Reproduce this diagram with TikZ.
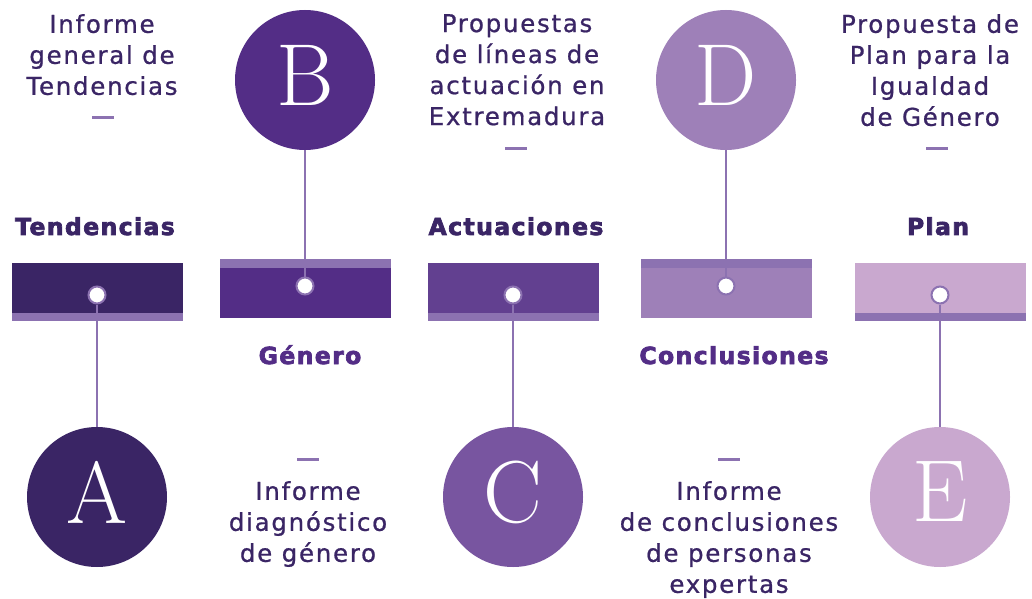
\documentclass[tikz,border=0pt]{standalone}
\usepackage{fontspec}
\newfontfamily\bodyfont[LetterSpace=7,FakeBold=0.8]{DejaVu Sans}
\newfontfamily\headfont[LetterSpace=6,BoldFont={DejaVu Sans Bold},BoldFeatures={FakeBold=3}]{DejaVu Sans}
\definecolor{darkP}{HTML}{3A2565}
\definecolor{purpB}{HTML}{532D86}
\definecolor{purpC}{HTML}{7855A0}
\definecolor{barC}{HTML}{624090}
\definecolor{purpD}{HTML}{9E80B8}
\definecolor{purpE}{HTML}{C9A8CF}
\definecolor{lineC}{HTML}{8C72B1}

\begin{document}
\begin{tikzpicture}[x=1pt, y=1pt,
  bigcirc/.style={circle, minimum size=140pt, inner sep=0pt, text=white, text depth=10pt,
    font=\fontsize{88}{88}\selectfont},
  hole/.style={circle, draw=lineC, line width=2pt, fill=white, minimum size=17pt, inner sep=0pt},
  link/.style={lineC, line width=2pt},
  body/.style={text=darkP, align=center, inner sep=0pt, anchor=north,
    font=\bodyfont\fontsize{24.5}{31}\selectfont},
  head/.style={inner sep=0pt, anchor=base, font=\headfont\bfseries\fontsize{23.5}{23.5}\selectfont},
  dashmark/.style={fill=lineC, minimum width=22pt, minimum height=3pt, inner sep=0pt}]
\useasboundingbox (0,0) rectangle (1032,598);

  % bars
  \fill[darkP] (12,285) rectangle (183,335); % A
  \fill[lineC] (12,277) rectangle (183,285);
  \fill[purpB] (220,280) rectangle (391,330); % B
  \fill[lineC] (220,330) rectangle (391,339);
  \fill[barC] (428,285) rectangle (599,335); % C
  \fill[lineC] (428,277) rectangle (599,285);
  \fill[purpD] (641,280) rectangle (812,330); % D
  \fill[lineC] (641,330) rectangle (812,339);
  \fill[purpE] (855,285) rectangle (1026,335); % E
  \fill[lineC] (855,277) rectangle (1026,285);

  % big circles
  \node[bigcirc, fill=darkP] (circA) at (97,101) {A};
  \node[bigcirc, fill=purpB] (circB) at (305,518) {B};
  \node[bigcirc, fill=purpC] (circC) at (513,101) {C};
  \node[bigcirc, fill=purpD] (circD) at (726,518) {D};
  \node[bigcirc, fill=purpE] (circE) at (940,101) {E};

  % holes on the bars
  \node[hole] (holeA) at (97,303) {};
  \node[hole] (holeB) at (305,312) {};
  \node[hole] (holeC) at (513,303) {};
  \node[hole] (holeD) at (726,312) {};
  \node[hole] (holeE) at (940,303) {};

  \draw[link] (holeA) -- (circA); % A
  \draw[link] (holeB) -- (circB); % B
  \draw[link] (holeC) -- (circC); % C
  \draw[link] (holeD) -- (circD); % D
  \draw[link] (holeE) -- (circE); % E

  % headings
  \node[head, text=darkP] (headA) at (95,363) {Tendencias};
  \node[head, text=purpB] (headB) at (310,234) {Género};
  \node[head, text=darkP] (headC) at (516,363) {Actuaciones};
  \node[head, text=purpB] (headD) at (734,234) {Conclusiones};
  \node[head, text=darkP] (headE) at (938,363) {Plan};

  % top texts
  \node[body] (txtA) at (102,584) {Informe\\general de\\Tendencias};
  \node[dashmark] (dashA) at (103,480) {};
  \node[body] (txtC) at (517,584) {Propuestas\\de líneas de\\actuación en\\Extremadura};
  \node[dashmark] (dashC) at (516,449) {};
  \node[body] (txtE) at (930,584) {Propuesta de\\Plan para la\\Igualdad\\de Género};
  \node[dashmark] (dashE) at (937,449) {};

  % bottom texts
  \node[dashmark] (dashB) at (308,139) {};
  \node[body] (txtB) at (308,117) {Informe\\diagnóstico\\de género};
  \node[dashmark] (dashD) at (729,139) {};
  \node[body] (txtD) at (729,117) {Informe\\de conclusiones\\de personas\\expertas};
\end{tikzpicture}
\end{document}
